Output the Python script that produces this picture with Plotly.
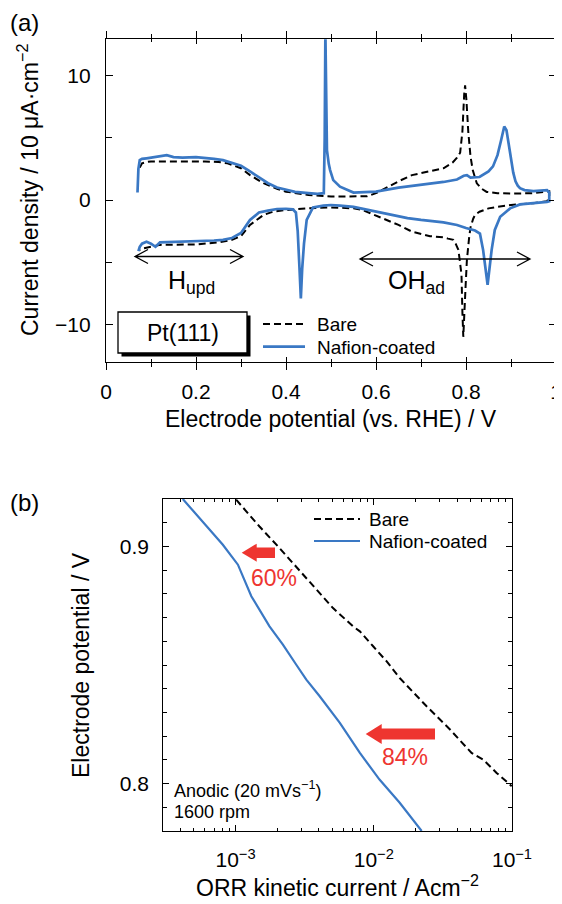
import math
import plotly.graph_objects as go

# ---------------- data : panel (a) cyclic voltammograms ----------------
bare_anodic_E = [0.075, 0.08, 0.09, 0.10, 0.12, 0.15, 0.18, 0.20, 0.22, 0.25, 0.27, 0.30, 0.32, 0.35,
                 0.38, 0.40, 0.45, 0.50, 0.55, 0.58, 0.60, 0.62, 0.65, 0.68, 0.70, 0.73, 0.75, 0.77,
                 0.78, 0.787, 0.792, 0.796, 0.798, 0.801, 0.805, 0.81, 0.815, 0.824, 0.835, 0.846,
                 0.87, 0.90, 0.95, 0.975, 0.985]
bare_anodic_j = [2.6, 2.95, 3.05, 3.1, 3.1, 3.1, 3.1, 3.15, 3.1, 3.05, 2.95, 2.55, 2.0, 1.35,
                 0.9, 0.67, 0.4, 0.28, 0.27, 0.3, 0.55, 0.95, 1.5, 2.0, 2.15, 2.35, 2.55, 3.0,
                 3.4, 3.8, 5.5, 8.5, 9.2, 8.0, 5.5, 3.5, 2.4, 1.34, 0.9, 0.65,
                 0.55, 0.52, 0.55, 0.65, 0.7]
bare_cathodic_E = [0.985, 0.98, 0.95, 0.92, 0.90, 0.87, 0.85, 0.83, 0.82, 0.816, 0.81, 0.807, 0.802,
                   0.799, 0.796, 0.794, 0.792, 0.79, 0.786, 0.783, 0.777, 0.772, 0.76, 0.75, 0.72,
                   0.70, 0.68, 0.65, 0.62, 0.60, 0.57, 0.55, 0.52, 0.50, 0.45, 0.40, 0.37, 0.35,
                   0.32, 0.30, 0.28, 0.25, 0.20, 0.15, 0.12, 0.10, 0.08, 0.075]
bare_cathodic_j = [0.2, -0.1, -0.25, -0.33, -0.4, -0.55, -0.67, -0.94, -1.2, -1.5, -2.2, -3.0, -4.8,
                   -7.0, -9.5, -10.98, -9.0, -6.0, -4.8, -4.0, -3.5, -3.2, -3.1, -3.0, -2.9,
                   -2.73, -2.54, -2.0, -1.55, -1.2, -0.8, -0.67, -0.6, -0.59, -0.67, -0.8, -0.95, -1.2,
                   -2.0, -2.9, -3.2, -3.4, -3.56, -3.6, -3.6, -3.75, -3.9, -4.0]

naf_anodic_E = [0.070, 0.072, 0.075, 0.080, 0.090, 0.100, 0.120, 0.135, 0.150, 0.170, 0.200, 0.220,
                0.240, 0.260, 0.280, 0.300, 0.320, 0.340, 0.360, 0.380, 0.400, 0.420, 0.450, 0.470,
                0.484, 0.486, 0.4875, 0.489, 0.491, 0.495, 0.498, 0.505, 0.520, 0.550, 0.600, 0.650,
                0.700, 0.750, 0.780, 0.795, 0.802, 0.810, 0.830, 0.850, 0.860, 0.870, 0.878, 0.885,
                0.890, 0.895, 0.900, 0.905, 0.910, 0.915, 0.920, 0.930, 0.950, 0.970, 0.980, 0.985]
naf_anodic_j = [0.6, 2.5, 3.2, 3.3, 3.35, 3.4, 3.5, 3.6, 3.45, 3.4, 3.45, 3.4,
                3.3, 3.2, 3.0, 2.75, 2.3, 1.8, 1.35, 1.0, 0.8, 0.65, 0.55, 0.5,
                0.55, 5.0, 13.5, 7.0, 4.0, 2.9, 2.4, 1.6, 1.07, 0.6, 0.67, 1.0,
                1.2, 1.45, 1.65, 1.95, 2.0, 1.8, 1.85, 2.3, 2.7, 3.6, 4.8, 5.9,
                5.6, 4.5, 3.2, 2.2, 1.5, 1.15, 0.95, 0.8, 0.72, 0.75, 0.8, 0.6]
naf_cathodic_E = [0.985, 0.980, 0.960, 0.940, 0.920, 0.898, 0.876, 0.864, 0.857, 0.848, 0.838,
                  0.831, 0.820, 0.800, 0.780, 0.750, 0.720, 0.700, 0.670, 0.650, 0.620, 0.600,
                  0.570, 0.550, 0.520, 0.500, 0.483, 0.460, 0.446, 0.440, 0.436, 0.433, 0.430,
                  0.426, 0.422, 0.415, 0.400, 0.380, 0.360, 0.340, 0.320, 0.300, 0.280, 0.260,
                  0.240, 0.220, 0.200, 0.180, 0.160, 0.140, 0.130, 0.120, 0.110, 0.100, 0.090,
                  0.080, 0.075, 0.072]
naf_cathodic_j = [-0.1, -0.15, -0.2, -0.3, -0.35, -0.67, -1.34, -2.4, -4.0, -6.8, -4.0,
                  -2.7, -2.45, -2.25, -2.0, -1.8, -1.7, -1.6, -1.45, -1.3, -1.1, -0.95,
                  -0.7, -0.55, -0.45, -0.4, -0.45, -0.6, -1.6, -3.5, -5.5, -7.9, -5.5,
                  -2.5, -1.0, -0.75, -0.7, -0.72, -0.85, -1.0, -1.6, -2.65, -3.05, -3.2,
                  -3.25, -3.27, -3.3, -3.35, -3.35, -3.4, -3.35, -3.4, -3.75, -3.5, -3.35,
                  -3.5, -3.75, -4.1]

# ---------------- data : panel (b) Tafel plots ----------------
bare_ik = [1.01e-3, 1.49e-3, 2.08e-3, 2.91e-3, 3.85e-3, 5.07e-3, 7.08e-3, 7.93e-3, 9.89e-3,
           1.24e-2, 1.54e-2, 2.41e-2, 3.56e-2, 5.10e-2, 6.19e-2, 7.74e-2, 9.95e-2]
bare_Eb = [0.9197, 0.9084, 0.8993, 0.8899, 0.8818, 0.8740, 0.8663, 0.8642, 0.8579,
           0.8515, 0.8445, 0.8326, 0.8228, 0.8129, 0.8101, 0.8045, 0.7989]
naf_ik = [4.15e-4, 6.86e-4, 8.09e-4, 1.04e-3, 1.30e-3, 1.76e-3, 2.20e-3, 2.75e-3, 3.25e-3,
          4.06e-3, 5.68e-3, 7.93e-3, 1.10e-2, 1.54e-2, 2.22e-2]
naf_Eb = [0.920, 0.9056, 0.9007, 0.8923, 0.879, 0.8663, 0.8586, 0.8501, 0.8438,
          0.8368, 0.8256, 0.8129, 0.8017, 0.7919, 0.780]

# ---------------- ticks ----------------
a_xticks = [0, 0.2, 0.4, 0.6, 0.8, 1.0]
a_xticktext = ["0", "0.2", "0.4", "0.6", "0.8", "1"]
a_xminor = [0.1, 0.3, 0.5, 0.7, 0.9]
a_yticks = [-10, 0, 10]
a_yticktext = ["\u221210", "0", "10"]
a_yminor = [-5, 5]
b_xticks = [1e-3, 1e-2, 1e-1]
b_xticktext = ["10<sup>\u22123</sup>", "10<sup>\u22122</sup>", "10<sup>\u22121</sup>"]
b_xminor = [m * 10.0 ** e for e in (-4, -3, -2) for m in range(2, 10)]
b_yticks = [0.8, 0.9]
b_yticktext = ["0.8", "0.9"]

# ---------------- style ----------------
# the page body adds an 8 px margin, so the figure is made 8 px smaller and
# every page-pixel position below is measured from the window's corner
OFF = 8
W, H = 562 - OFF, 904 - OFF
FONT = "Liberation Sans, Arial, Helvetica, sans-serif"
BLUE = "#3a78c4"
RED = "#ee3530"
LW = 1.3
DASH = "7px,4px"


def px(x):
    return (x - OFF) / W


def py(y):
    return 1 - (y - OFF) / H


fig = go.Figure()

# panel (a)
fig.add_trace(go.Scatter(x=bare_anodic_E + bare_cathodic_E, y=bare_anodic_j + bare_cathodic_j,
                         mode="lines", name="Bare", showlegend=False,
                         line=dict(color="black", width=2, dash=DASH), xaxis="x", yaxis="y"))
fig.add_trace(go.Scatter(x=naf_anodic_E + naf_cathodic_E, y=naf_anodic_j + naf_cathodic_j,
                         mode="lines", name="Nafion-coated", showlegend=False,
                         line=dict(color=BLUE, width=2.7), xaxis="x", yaxis="y"))
# empty trace to activate the overlay axis carrying the outer tick halves
fig.add_trace(go.Scatter(x=[], y=[], xaxis="x3", yaxis="y", showlegend=False, hoverinfo="skip"))

# panel (b)
fig.add_trace(go.Scatter(x=bare_ik, y=bare_Eb, mode="lines", name="Bare", showlegend=False,
                         line=dict(color="black", width=2, dash=DASH), xaxis="x2", yaxis="y2"))
fig.add_trace(go.Scatter(x=naf_ik, y=naf_Eb, mode="lines", name="Nafion-coated", showlegend=False,
                         line=dict(color=BLUE, width=2.2), xaxis="x2", yaxis="y2"))

tickfont = dict(family=FONT, size=21, color="black")
common = dict(showline=True, linecolor="black", linewidth=LW, showgrid=False, zeroline=False,
              tickcolor="black", tickwidth=LW, tickfont=tickfont, mirror="ticks", automargin=False)

fig.update_layout(
    width=W, height=H, margin=dict(l=0, r=0, t=0, b=0, pad=0, autoexpand=False),
    paper_bgcolor="white", plot_bgcolor="white",
    font=dict(family=FONT, color="black"),
    xaxis=dict(domain=[px(106), px(556)], range=[0, 1], anchor="y",
               tickmode="array", tickvals=a_xticks, ticktext=a_xticktext,
               ticks="inside", ticklen=5, ticklabelstandoff=11,
               minor=dict(tickmode="array", tickvals=a_xminor, ticks="inside", ticklen=3,
                          tickcolor="black", tickwidth=LW),
               **common),
    xaxis3=dict(overlaying="x", range=[0, 1], anchor="y", showline=False, showgrid=False,
                zeroline=False, showticklabels=False, mirror="ticks", automargin=False,
                tickmode="array", tickvals=a_xticks, ticks="outside", ticklen=7,
                tickcolor="black", tickwidth=LW,
                minor=dict(tickmode="array", tickvals=a_xminor, ticks="outside", ticklen=4,
                           tickcolor="black", tickwidth=LW)),
    yaxis=dict(domain=[py(362), py(39.3)], range=[-13, 12.9], anchor="x",
               tickmode="array", tickvals=a_yticks, ticktext=a_yticktext,
               ticks="inside", ticklen=7, ticklabelstandoff=10,
               minor=dict(tickmode="array", tickvals=a_yminor, ticks="inside", ticklen=6,
                          tickcolor="black", tickwidth=LW),
               **common),
    xaxis2=dict(type="log", domain=[px(163.3), px(512)], range=[math.log10(3e-4), -1], anchor="y2",
                tickmode="array", tickvals=b_xticks, ticktext=b_xticktext,
                ticks="inside", ticklen=6, ticklabelstandoff=10,
                minor=dict(tickmode="array", tickvals=b_xminor, ticks="inside", ticklen=3,
                           tickcolor="black", tickwidth=LW),
                **common),
    yaxis2=dict(domain=[py(831), py(499)], range=[0.78, 0.92], anchor="x2",
                tickmode="array", tickvals=b_yticks, ticktext=b_yticktext,
                ticks="inside", ticklen=6, ticklabelstandoff=9,
                minor=dict(dtick=0.01, tick0=0.8, ticks="inside", ticklen=3.5,
                           tickcolor="black", tickwidth=LW),
                **common),
)


def ann(text, x, y, size, xanchor="center", yanchor="middle", color="black", angle=0):
    fig.add_annotation(text=text, x=px(x), y=py(y), xref="paper", yref="paper",
                       xanchor=xanchor, yanchor=yanchor, showarrow=False, textangle=angle,
                       font=dict(family=FONT, size=size, color=color))


def P(x, y):
    return f"{px(x):.5f},{py(y):.5f}"


shapes = []

# Pt(111) box with drop shadow
shapes.append(dict(type="rect", xref="paper", yref="paper", x0=px(121.5), x1=px(250.5),
                   y0=py(356.5), y1=py(315.5), fillcolor="black", line=dict(width=0)))
shapes.append(dict(type="rect", xref="paper", yref="paper", x0=px(118), x1=px(247),
                   y0=py(353), y1=py(312), fillcolor="white", line=dict(color="black", width=LW)))


def dbl_arrow(x1, x2, y):
    path = (f"M{P(x1, y)} L{P(x2, y)} "
            f"M{P(x1 + 13, y - 7)} L{P(x1, y)} L{P(x1 + 13, y + 7)} "
            f"M{P(x2 - 13, y - 7)} L{P(x2, y)} L{P(x2 - 13, y + 7)}")
    shapes.append(dict(type="path", xref="paper", yref="paper", path=path,
                       line=dict(color="black", width=1.3)))


dbl_arrow(135, 243, 256.5)
dbl_arrow(360, 530, 259)


def red_arrow(tip_x, y, head_len, head_half, shaft_half, end_x):
    hb = tip_x + head_len
    path = (f"M{P(tip_x, y)} L{P(hb, y - head_half)} L{P(hb, y - shaft_half)} "
            f"L{P(end_x, y - shaft_half)} L{P(end_x, y + shaft_half)} L{P(hb, y + shaft_half)} "
            f"L{P(hb, y + head_half)} Z")
    shapes.append(dict(type="path", xref="paper", yref="paper", path=path,
                       fillcolor=RED, line=dict(width=0)))


red_arrow(241.7, 552.7, 15, 9, 5.3, 275)
red_arrow(365.7, 734, 16, 10, 5.5, 435)

# manual legends
for (x0, x1, y, dash, col, w) in [
    (263, 305, 324, DASH, "black", 2), (263, 305, 346.7, "solid", BLUE, 2.7),
    (314, 360, 519, DASH, "black", 2), (314, 360, 541, "solid", BLUE, 2.2)]:
    shapes.append(dict(type="line", xref="paper", yref="paper", x0=px(x0), x1=px(x1),
                       y0=py(y), y1=py(y), line=dict(color=col, width=w, dash=dash)))

fig.update_layout(shapes=shapes)

ann("Bare", 315, 324, 19, xanchor="left")
ann("Nafion-coated", 315, 347, 19, xanchor="left")
ann("Bare", 367, 519, 19, xanchor="left")
ann("Nafion-coated", 367, 541, 19, xanchor="left")

ann("Pt(111)", 182.5, 332.5, 23)
ann("H<sub>upd</sub>", 166, 282, 25, xanchor="left")
ann("OH<sub>ad</sub>", 386, 282, 25, xanchor="left")

ann("60%", 274, 578, 23, color=RED)
ann("84%", 405, 757, 23, color=RED)
ann("Anodic (20 mVs<sup>\u22121</sup>)", 172, 789, 18, xanchor="left")
ann("1600 rpm", 172, 812, 18, xanchor="left")

ann("(a)", 24, 22, 24)
ann("(b)", 24, 502, 24)

ann("Current density / 10 \u03bcA\u00b7cm<sup>\u22122</sup>", 28, 190, 23, angle=-90)
ann("Electrode potential (vs. RHE) / V", 331, 419, 23)
ann("Electrode potential / V", 81, 665, 23, angle=-90)
ann("ORR kinetic current / Acm<sup>\u22122</sup>", 337, 886, 23)

fig.write_html("out.html")
